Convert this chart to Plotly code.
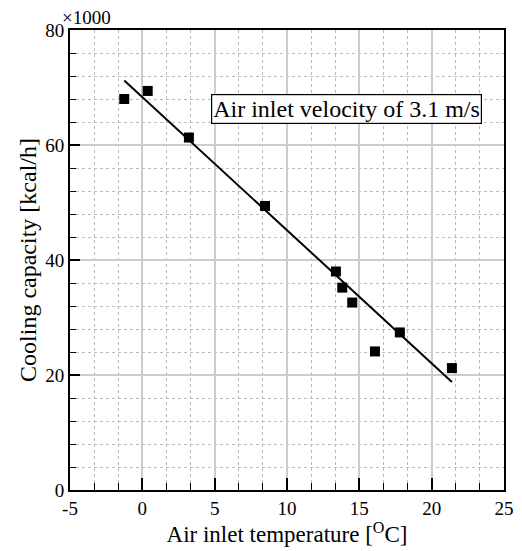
import plotly.graph_objects as go

temp = [-1.25, 0.37, 3.22, 8.48, 13.38, 13.82, 14.51, 16.08, 17.8, 21.4]
capacity = [68.0, 69.4, 61.3, 49.4, 38.0, 35.2, 32.6, 24.1, 27.4, 21.2]
fit_temp = [-1.25, 21.4]
fit_capacity = [71.2, 18.8]
x_ticks = [-5, 0, 5, 10, 15, 20, 25]
x_tick_labels = ["-5", "0", "5", "10", "15", "20", "25"]
y_ticks = [0, 20, 40, 60, 80]
y_tick_labels = ["0", "20", "40", "60", "80"]

FONT = "Liberation Serif"

fig = go.Figure()
fig.add_trace(go.Scatter(x=fit_temp, y=fit_capacity, mode="lines",
                         line=dict(color="black", width=2), showlegend=False))
fig.add_trace(go.Scatter(x=temp, y=capacity, mode="markers",
                         marker=dict(symbol="square", size=10, color="black"),
                         showlegend=False))

axis_common = dict(
    showline=True, linecolor="black", linewidth=2, mirror=True,
    showgrid=True, gridcolor="#cccccc", gridwidth=1.5,
    ticks="inside", tickcolor="black", tickwidth=1.5,
    zeroline=False, automargin=False,
    tickfont=dict(family=FONT, size=19, color="black"),
)

fig.update_xaxes(range=[-5, 25], tickvals=x_ticks, ticktext=x_tick_labels, ticklen=12,
                 minor=dict(dtick=5/3, tick0=-5, showgrid=True, griddash="dot",
                            gridcolor="#bbbbbb", gridwidth=1, ticks="inside",
                            ticklen=7, tickcolor="black", tickwidth=1.2),
                 title=dict(text="Air inlet temperature [<sup>O</sup>C]",
                            font=dict(family=FONT, size=23, color="black"), standoff=0),
                 **axis_common)
fig.update_yaxes(range=[0, 80], tickvals=y_ticks, ticktext=y_tick_labels, ticklen=10,
                 minor=dict(dtick=4, tick0=0, showgrid=True, griddash="dot",
                            gridcolor="#bbbbbb", gridwidth=1, ticks="inside",
                            ticklen=6, tickcolor="black", tickwidth=1.2),
                 title=dict(text="Cooling capacity [kcal/h]",
                            font=dict(family=FONT, size=24, color="black"), standoff=2),
                 **axis_common)

fig.add_annotation(x=14.14, y=66.3, text="Air inlet velocity of 3.1 m/s",
                   showarrow=False, font=dict(family=FONT, size=24, color="black"),
                   bordercolor="black", borderwidth=1.2, borderpad=1, bgcolor="white")
fig.add_annotation(xref="paper", yref="paper", x=-0.022, y=1.0, yanchor="middle",
                   xanchor="left", yshift=13,
                   text="×1000", showarrow=False,
                   font=dict(family=FONT, size=19, color="black"))

fig.update_layout(width=514, height=543, plot_bgcolor="white", paper_bgcolor="white",
                  margin=dict(l=62, r=18, t=22, b=61),
                  font=dict(family=FONT, color="black"))

fig.write_html("out.html")
